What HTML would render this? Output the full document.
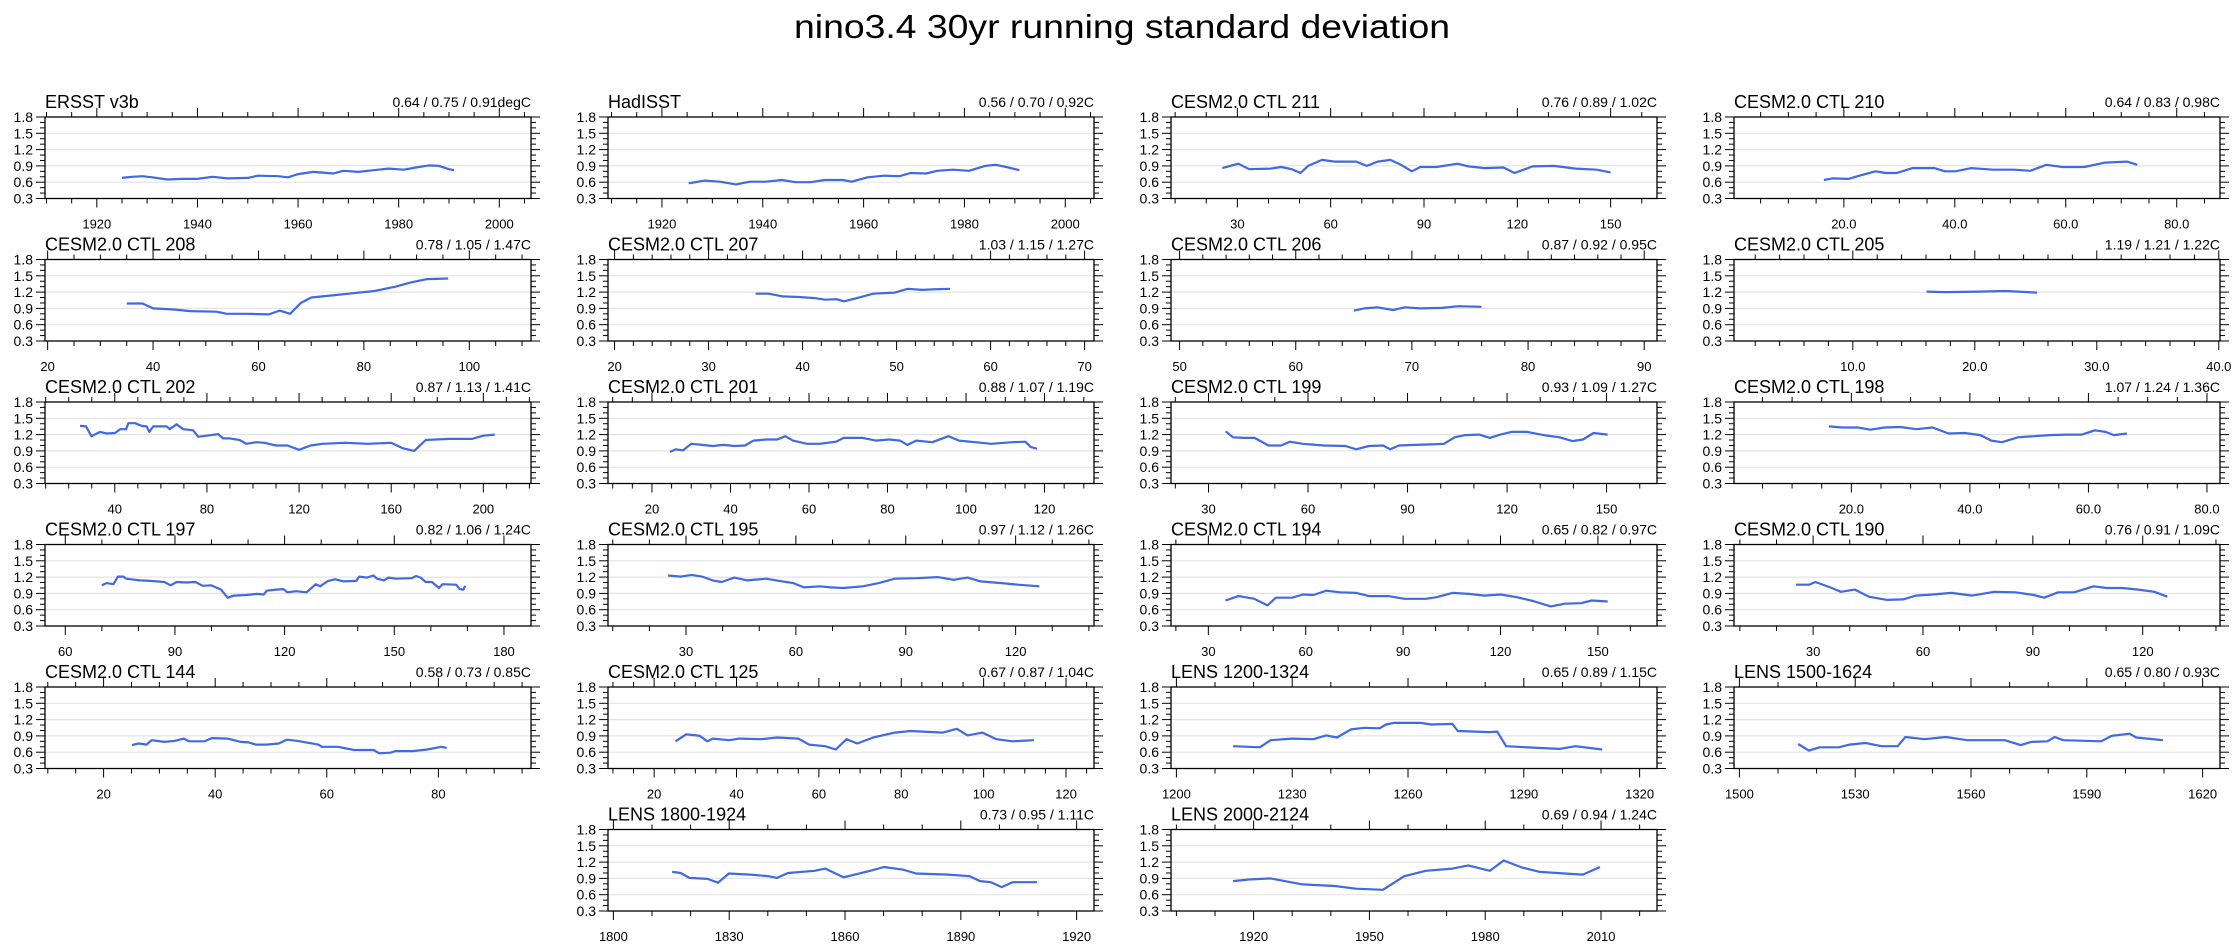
<!DOCTYPE html>
<html><head><meta charset="utf-8">
<style>
html,body{margin:0;padding:0;background:#fff;}
svg{display:block;font-family:"Liberation Sans",Arial,sans-serif;}
</style></head>
<body>
<svg id="chart" width="2238" height="947" viewBox="0 0 2238 947" xmlns="http://www.w3.org/2000/svg">
<rect x="0" y="0" width="2238" height="947" fill="#fff"/>
<text x="1122" y="38" text-anchor="middle" font-size="33" textLength="656" lengthAdjust="spacingAndGlyphs">nino3.4 30yr running standard deviation</text>
</svg>
<script>
// ---- data arrays ----
const yTicks = [0.3, 0.6, 0.9, 1.2, 1.5, 1.8];
const yTickLabels = ["0.3", "0.6", "0.9", "1.2", "1.5", "1.8"];

const ersstX = [1925,1927,1929,1931,1934,1937,1940,1943,1946,1950,1952,1956,1958,1960,1963,1967,1969,1972,1975,1978,1981,1984,1986,1988,1990,1991];
const ersstY = [0.68,0.70,0.71,0.69,0.65,0.66,0.66,0.70,0.67,0.68,0.72,0.71,0.69,0.75,0.79,0.76,0.81,0.79,0.82,0.85,0.83,0.88,0.91,0.90,0.84,0.82];
const hadX = [1925.3,1928.5,1931.5,1934.7,1937.4,1940.6,1943.8,1946.5,1949.5,1952.3,1955.9,1957.6,1960.8,1964.0,1967.1,1969.3,1972.4,1974.6,1977.7,1980.9,1984.1,1986.2,1988.3,1990.9];
const hadY = [0.58,0.63,0.61,0.56,0.61,0.61,0.64,0.60,0.60,0.64,0.64,0.61,0.69,0.72,0.71,0.77,0.76,0.81,0.83,0.81,0.90,0.92,0.88,0.82];
const c211X = [25.2,30.3,33.8,40.7,44.1,47.5,50.3,52.7,57.2,61.3,68.2,71.6,75.1,79.2,82.6,86.1,88.8,94,100.8,104.3,109.4,115.6,119.1,124.9,131.8,138.7,145.5,150];
const c211Y = [0.86,0.94,0.84,0.85,0.88,0.84,0.77,0.90,1.01,0.98,0.98,0.90,0.98,1.01,0.92,0.80,0.88,0.88,0.94,0.89,0.86,0.87,0.77,0.89,0.90,0.85,0.83,0.78];
const c210X = [16.4,17.9,20.8,22.8,25.7,27.6,29.5,32.4,36.3,38.2,40.1,43,46.9,50.7,53.6,56.5,59.4,63.3,67.1,71,72.9];
const c210Y = [0.64,0.67,0.66,0.72,0.80,0.77,0.77,0.86,0.86,0.80,0.80,0.86,0.83,0.83,0.81,0.92,0.88,0.88,0.96,0.98,0.92];
const c208X = [35,38,40,44,47,52,54,58,62,64,66,68,70,74,78,82,86,89,92,96];
const c208Y = [0.99,0.99,0.90,0.88,0.85,0.84,0.80,0.80,0.79,0.86,0.80,1.00,1.10,1.14,1.18,1.22,1.30,1.38,1.44,1.45];
const c207X = [35.0,36.4,37.9,39.6,41.3,42.4,43.6,44.4,45.8,47.5,49.8,51.2,52.7,53.8,55.7];
const c207Y = [1.17,1.17,1.12,1.11,1.09,1.06,1.07,1.03,1.09,1.17,1.19,1.26,1.24,1.25,1.26];
const c206X = [65.0,65.9,67.0,68.4,69.4,70.7,72.6,74.0,76.0];
const c206Y = [0.86,0.90,0.92,0.87,0.92,0.90,0.91,0.94,0.93];
const c205X = [16.05,17.6,20.3,22.5,25.1];
const c205Y = [1.21,1.20,1.21,1.22,1.19];
const c202X = [24.9,27.5,29.9,33.6,36.5,40.1,42.3,44.9,45.9,48.8,51.7,53.8,55,56.7,62.5,63.9,66.8,69.7,74,76.2,79.8,84.9,87,89.9,94.2,97.1,101.5,105,110,115,120,125,130,140,150,160,165,170,175,185,195,200,205];
const c202Y = [1.36,1.35,1.17,1.25,1.22,1.23,1.30,1.30,1.41,1.41,1.36,1.35,1.25,1.35,1.35,1.30,1.39,1.30,1.28,1.16,1.18,1.21,1.13,1.13,1.10,1.03,1.06,1.05,1.00,1.00,0.92,1.00,1.03,1.05,1.03,1.05,0.95,0.90,1.10,1.12,1.12,1.18,1.20];
const c201X = [24.6,26,27.9,30,32.8,35.5,38.2,41,43.7,45.9,49.1,51.9,54.0,55.9,59.5,62.8,66.9,68.8,73.7,77,80.5,83.2,85.1,87.3,91.4,95.5,98.2,102.3,106.4,111.8,115.1,116.5,118.1];
const c201Y = [0.88,0.93,0.91,1.03,1.01,0.99,1.01,0.99,1.00,1.09,1.11,1.11,1.17,1.09,1.03,1.03,1.07,1.14,1.14,1.09,1.11,1.09,1.01,1.09,1.06,1.17,1.09,1.06,1.03,1.06,1.07,0.97,0.94];
const c199X = [35.2,37.4,40.6,43.9,48.1,51.9,54.5,58.4,64.8,71.3,74.5,78.4,82.6,84.8,87.4,92.2,97.1,101,104.2,107.4,111.6,114.8,118,121.3,126.1,131,135.8,139.7,142.9,146.1,150.3];
const c199Y = [1.26,1.15,1.14,1.14,1.00,1.00,1.07,1.03,1.00,0.99,0.93,0.99,1.00,0.93,1.00,1.01,1.02,1.03,1.15,1.19,1.20,1.14,1.20,1.25,1.25,1.19,1.15,1.08,1.11,1.23,1.20];
const c198X = [16.2,18.4,21.1,23.2,25.6,28.3,31,33.7,36.4,39.1,41.8,43.6,45.4,48.1,50.8,53.5,56.2,58.9,61.1,62.9,64.3,66.5];
const c198Y = [1.35,1.33,1.33,1.29,1.33,1.34,1.30,1.33,1.22,1.23,1.19,1.09,1.06,1.15,1.17,1.19,1.20,1.20,1.28,1.25,1.19,1.22];
const c197X = [70.0,71.3,73.2,74.4,75.9,76.6,80.4,83.2,87.1,88.8,90.5,93,95.6,97.6,99.9,102.6,104.4,106.1,109.5,112.4,114.3,115.1,117.7,119.7,120.7,123.1,126,128.5,129.7,131.9,133.8,136.2,139.6,140.4,142.6,144.3,145.3,147.2,148.4,150.4,154.7,156,157.2,158.6,160.3,162.2,163.2,166.9,167.9,168.9,169.4];
const c197Y = [1.05,1.09,1.07,1.21,1.21,1.17,1.14,1.13,1.11,1.05,1.11,1.10,1.11,1.04,1.05,0.97,0.82,0.86,0.87,0.89,0.88,0.95,0.97,0.98,0.92,0.94,0.92,1.07,1.03,1.13,1.16,1.12,1.13,1.21,1.19,1.23,1.17,1.14,1.19,1.17,1.18,1.22,1.19,1.11,1.11,1.00,1.07,1.06,0.98,0.97,1.04];
const c195X = [25.1,28.6,31.5,34.4,37.3,39.7,43.2,46.7,51.9,56.3,59.3,62.2,66.6,69.5,73,78.3,82.6,87,92.9,98.7,103.1,106.9,110.4,116.2,120.6,126.5];
const c195Y = [1.23,1.21,1.24,1.21,1.14,1.11,1.19,1.14,1.17,1.12,1.09,1.01,1.03,1.01,1.00,1.03,1.09,1.17,1.18,1.20,1.15,1.19,1.12,1.09,1.06,1.03];
const c194X = [35.3,39.3,44.2,48.2,50.8,55.8,59.1,62.4,66.3,70.6,75.5,79.5,85.4,90.4,97,100.3,105.2,110.2,115.1,120.1,125,130,135.5,139.8,144.8,148.1,153];
const c194Y = [0.77,0.85,0.80,0.68,0.82,0.82,0.88,0.87,0.95,0.92,0.91,0.85,0.85,0.80,0.80,0.83,0.91,0.89,0.86,0.88,0.83,0.76,0.66,0.71,0.72,0.77,0.75];
const c190X = [25.3,28.9,30.6,34.7,37.6,41.4,45.2,50.2,54.6,58.1,62.7,67.7,73.5,79.4,85.2,90.2,93.1,96.9,101.3,106.6,110.1,114.4,118.8,123.2,126.7];
const c190Y = [1.06,1.06,1.11,1.01,0.93,0.97,0.84,0.78,0.79,0.86,0.88,0.91,0.86,0.93,0.92,0.87,0.82,0.92,0.92,1.03,1.00,1.00,0.97,0.93,0.84];
const c144X = [25.1,26.3,27.7,28.6,30.9,32.8,34.4,35.3,38.1,39.4,42.2,44.6,46,47.3,49.2,51.4,52.8,54.7,56.3,58.5,59.1,62,64.9,68.4,69.4,71.4,72.3,75.4,78,80.5,81.5];
const c144Y = [0.73,0.76,0.74,0.82,0.79,0.81,0.85,0.80,0.80,0.86,0.85,0.79,0.78,0.74,0.74,0.76,0.83,0.81,0.78,0.74,0.70,0.70,0.64,0.64,0.58,0.59,0.62,0.62,0.65,0.70,0.68];
const c125X = [25.2,27.8,31.1,32.9,34.3,38.2,40.7,46,49.8,55,57.6,61.5,64.1,66.7,69.3,73.2,78.4,82.3,90.1,93.5,96.1,99.7,103.1,107,112.2];
const c125Y = [0.80,0.93,0.90,0.80,0.85,0.82,0.85,0.84,0.87,0.85,0.74,0.71,0.65,0.84,0.76,0.87,0.96,0.99,0.96,1.03,0.91,0.96,0.84,0.80,0.82];
const l1200X = [1214.7,1221.6,1224.4,1229.9,1235.5,1238.8,1241.6,1245.2,1248.8,1252.6,1254.3,1256.3,1263.2,1266,1271.5,1272.9,1281.2,1283.1,1285.4,1293.7,1299.2,1303.4,1310.3];
const l1200Y = [0.71,0.69,0.82,0.85,0.84,0.91,0.87,1.02,1.05,1.04,1.11,1.14,1.14,1.11,1.12,0.99,0.97,0.98,0.71,0.68,0.66,0.71,0.65];
const l1500X = [1515.2,1518,1520.8,1525.8,1528.5,1532.7,1536.8,1541,1543,1547.9,1553.5,1559,1568.7,1572.9,1575.6,1579.8,1581.7,1583.9,1593.7,1596.4,1601.1,1602.8,1609.7];
const l1500Y = [0.75,0.63,0.69,0.69,0.74,0.77,0.71,0.71,0.88,0.84,0.88,0.82,0.82,0.73,0.79,0.80,0.88,0.82,0.80,0.90,0.94,0.87,0.82];
const l1800X = [1815.2,1817.4,1819.7,1824.4,1827.1,1829.9,1835.5,1840.2,1842.4,1845.2,1852.1,1854.9,1859.6,1866,1870.1,1875.1,1878.4,1886.7,1892.3,1895,1897.8,1900.6,1903.4,1909.7];
const l1800Y = [1.02,1.00,0.91,0.89,0.82,0.99,0.97,0.94,0.91,1.00,1.04,1.08,0.92,1.03,1.11,1.06,0.99,0.97,0.94,0.85,0.83,0.74,0.83,0.83];
const l2000X = [1914.7,1918.8,1924.4,1932.7,1941,1946.5,1953.5,1959,1964.6,1971.5,1975.6,1981.2,1984.8,1989.5,1994.2,2000.6,2005.3,2009.7];
const l2000Y = [0.85,0.88,0.90,0.79,0.76,0.71,0.69,0.94,1.04,1.08,1.14,1.04,1.23,1.10,1.02,0.99,0.97,1.11];

// panel titles / stats
const panelNames = ["ERSST v3b","HadISST","CESM2.0 CTL 211","CESM2.0 CTL 210","CESM2.0 CTL 208","CESM2.0 CTL 207","CESM2.0 CTL 206","CESM2.0 CTL 205","CESM2.0 CTL 202","CESM2.0 CTL 201","CESM2.0 CTL 199","CESM2.0 CTL 198","CESM2.0 CTL 197","CESM2.0 CTL 195","CESM2.0 CTL 194","CESM2.0 CTL 190","CESM2.0 CTL 144","CESM2.0 CTL 125","LENS 1200-1324","LENS 1500-1624","LENS 1800-1924","LENS 2000-2124"];
const panelStats = ["0.64 / 0.75 / 0.91degC","0.56 / 0.70 / 0.92C","0.76 / 0.89 / 1.02C","0.64 / 0.83 / 0.98C","0.78 / 1.05 / 1.47C","1.03 / 1.15 / 1.27C","0.87 / 0.92 / 0.95C","1.19 / 1.21 / 1.22C","0.87 / 1.13 / 1.41C","0.88 / 1.07 / 1.19C","0.93 / 1.09 / 1.27C","1.07 / 1.24 / 1.36C","0.82 / 1.06 / 1.24C","0.97 / 1.12 / 1.26C","0.65 / 0.82 / 0.97C","0.76 / 0.91 / 1.09C","0.58 / 0.73 / 0.85C","0.67 / 0.87 / 1.04C","0.65 / 0.89 / 1.15C","0.65 / 0.80 / 0.93C","0.73 / 0.95 / 1.11C","0.69 / 0.94 / 1.24C"];
const seriesX = [ersstX,hadX,c211X,c210X,c208X,c207X,c206X,c205X,c202X,c201X,c199X,c198X,c197X,c195X,c194X,c190X,c144X,c125X,l1200X,l1500X,l1800X,l2000X];
const seriesY = [ersstY,hadY,c211Y,c210Y,c208Y,c207Y,c206Y,c205Y,c202Y,c201Y,c199Y,c198Y,c197Y,c195Y,c194Y,c190Y,c144Y,c125Y,l1200Y,l1500Y,l1800Y,l2000Y];
// axis ranges: [xmin, xmax, major step, minor step, decimals]
const xRanges = [
 [1909.7,2006.3,20,5,0],[1909.3,2005.7,20,5,0],[8.67,164.9,30,10,0],[0.2,87.8,20,5,1],
 [19.5,111.7,20,5,0],[19.3,71.0,10,2,0],[49.26,91.1,10,2,0],[0.26,40.1,10,2,1],
 [9.7,220.7,40,10,0],[8.8,132.6,20,5,0],[18.7,165.2,30,10,0],[0.2,82.2,20,5,1],
 [54.45,187.4,30,10,0],[8.7,141.4,30,10,0],[18.5,168.2,30,10,0],[8.4,141.1,30,10,0],
 [9.5,96.6,20,5,0],[8.8,126.8,20,5,0],[1198.6,1324.5,30,10,0],[1498.6,1624.5,30,10,0],
 [1798.6,1924.5,30,10,0],[1898.6,2024.5,30,10,0]
];
// grid slot (col,row) for each panel
const slotCol = [0,1,2,3,0,1,2,3,0,1,2,3,0,1,2,3,0,1,2,3,1,2];
const slotRow = [0,0,0,0,1,1,1,1,2,2,2,2,3,3,3,3,4,4,4,4,5,5];

const NS = "http://www.w3.org/2000/svg";
const svg = document.getElementById('chart');
const colLeft = [45,608,1171,1734];
const rowTop = [117,259.5,402,544.5,687,829.5];
const PW = 486, PH = 81.5, YMIN = 0.3, YMAX = 1.8;

function mk(tag, attrs, parent){
  const e = document.createElementNS(NS, tag);
  for (const k in attrs) e.setAttribute(k, attrs[k]);
  (parent||svg).appendChild(e);
  return e;
}

for (let i = 0; i < panelNames.length; i++) {
  const L = colLeft[slotCol[i]], T = rowTop[slotRow[i]], B = T + PH, R = L + PW;
  const [xmin, xmax, maj, mnr, dec] = xRanges[i];
  const sx = v => L + (v - xmin) / (xmax - xmin) * PW;
  const sy = v => B - (v - YMIN) / (YMAX - YMIN) * PH;
  const g = mk('g', {});
  
  

  for (const v of yTicks) {
    if (v === YMIN || v === YMAX) continue;
    const gl = mk('line', {x1:L, x2:R, y1:sy(v), y2:sy(v), stroke:'#e4e4e4', 'stroke-width':1.2}, g);
    
    
  }
  for (let v = YMIN; v <= YMAX + 1e-6; v += 0.1) {
    const y = sy(v);
    const isMaj = Math.abs(Math.round(v*10) % 3) === 0;
    const len = isMaj ? 9 : 5;
    mk('line', {x1:L-len, x2:L, y1:y, y2:y, stroke:'#000', 'stroke-width':1}, g);
    mk('line', {x1:R, x2:R+len, y1:y, y2:y, stroke:'#000', 'stroke-width':1}, g);
  }
  yTicks.forEach((v, k) => {
    const t = mk('text', {x:L-12, y:sy(v)+5, 'text-anchor':'end', 'font-size':14}, g);
    
    
    t.textContent = yTickLabels[k];
  });
  const start = Math.ceil(xmin / mnr - 1e-9) * mnr;
  for (let v = start; v <= xmax + 1e-9; v += mnr) {
    const x = sx(v);
    const isMaj = Math.abs(v / maj - Math.round(v / maj)) < 1e-6;
    const len = isMaj ? 9 : 5;
    mk('line', {x1:x, x2:x, y1:B, y2:B+len, stroke:'#000', 'stroke-width':1}, g);
    mk('line', {x1:x, x2:x, y1:T-len, y2:T, stroke:'#000', 'stroke-width':1}, g);
    if (isMaj) {
      const t = mk('text', {x:x, y:B+30, 'text-anchor':'middle', 'font-size':13}, g);
      
      
      t.textContent = v.toFixed(dec);
    }
  }
  const fr = mk('rect', {x:L, y:T, width:PW, height:PH, fill:'none', stroke:'#000', 'stroke-width':1.3}, g);
  
  
  const xs = seriesX[i], ys = seriesY[i];
  let d = '';
  for (let k = 0; k < xs.length; k++) d += (k ? 'L' : 'M') + sx(xs[k]).toFixed(1) + ' ' + sy(ys[k]).toFixed(1);
  const p = mk('path', {d:d, fill:'none', stroke:'#4169e1', 'stroke-width':2.2, 'stroke-linejoin':'round'}, g);
  
  
  const tt = mk('text', {x:L, y:T-9, 'font-size':18}, g);
  
  
  tt.textContent = panelNames[i];
  const st = mk('text', {x:R, y:T-10, 'text-anchor':'end', 'font-size':14}, g);
  
  
  st.textContent = panelStats[i];
}
</script>
</body></html>
